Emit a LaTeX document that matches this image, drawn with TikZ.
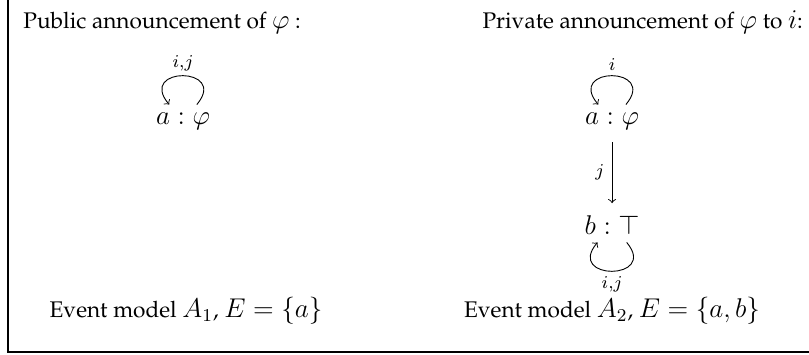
\documentclass[tikz,border=0pt]{standalone}
\usepackage[T1]{fontenc}
\usepackage{palatino}
\DeclareMathSizes{10}{11.7}{8.2}{6}
\DeclareMathSizes{7}{8.2}{6}{5}
\begin{document}
\begin{tikzpicture}
 \useasboundingbox (0,0) rectangle (12.58,-5.52);
 \draw[line width=.5pt] (0.124,0) -- (0.124,-5.474) -- (12.58,-5.474);

 \node (PubTitle) [anchor=base west] at (0.24,-0.451) {Public announcement of $\varphi$ :};
 \node (PrivTitle) [anchor=base west] at (7.38,-0.451) {Private announcement of $\varphi$ to $i$:};

 \node (A) at (2.846,-1.882) {$a : \varphi$};
 \node (A2) at (9.518,-1.882) {$a : \varphi$};
 \node (B2) at (9.518,-3.499) {$b : \top$};

 \node (EvA) [anchor=base] at (2.893,-4.93) {Event model $A_1$, $E=\{a\}$};
 \node (EvB) [anchor=base] at (9.518,-4.93) {Event model $A_2$, $E=\{a,b\}$};

   \path (A) edge [loop above, out=50,in=130,looseness=3,min distance=7.8mm, ->] node[above, inner sep=2pt] {\scriptsize$i{,}j$} (A);
   \path (A2) edge [loop above, out=50,in=130,looseness=3,min distance=7.8mm, ->] node[above, inner sep=2pt] {\scriptsize$i$} (A2);
   \path (A2) edge [->, shorten <=2pt, shorten >=2pt] node[left] {\scriptsize$j$} (B2);
   \path (B2) edge [loop below, out=-50,in=-130,looseness=3,min distance=7.8mm, ->] node[below, inner sep=2pt] {\scriptsize$i{,}j$} (B2);
\end{tikzpicture}
\end{document}
